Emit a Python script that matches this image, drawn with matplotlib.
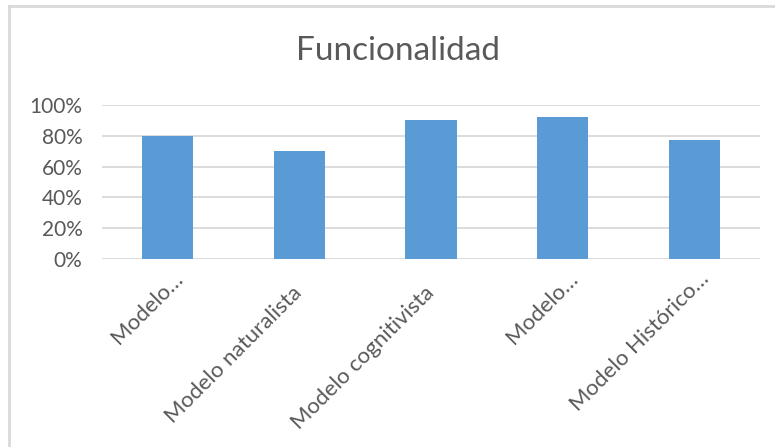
import matplotlib
matplotlib.use("Agg")
import matplotlib.pyplot as plt
import matplotlib.ticker as mtick
import matplotlib.transforms as mtrans
from matplotlib.lines import Line2D

categories = ["Modelo…", "Modelo naturalista", "Modelo cognitivista",
              "Modelo…", "Modelo Histórico…"]
values = [0.80, 0.70, 0.90, 0.92, 0.775]
y_ticks = [0, 0.2, 0.4, 0.6, 0.8, 1.0]

plt.rcParams["font.family"] = ["Lato", "DejaVu Sans"]
text_color = "#595959"
grid_color = "#d9d9d9"
bar_color = "#5b9bd5"

W, H = 775, 447
fig = plt.figure(figsize=(W / 100, H / 100), dpi=100)
ax = fig.add_axes([102 / W, 1 - 259 / H, 658 / W, 154 / H])

x = list(range(len(categories)))
ax.bar(x, values, width=0.39, color=bar_color, zorder=3)

ax.set_xlim(-0.5, len(categories) - 0.5)
ax.set_ylim(0, 1)
ax.set_yticks(y_ticks)
ax.yaxis.set_major_formatter(mtick.PercentFormatter(1.0, decimals=0))
ax.grid(axis="y", color=grid_color, linewidth=1.3, zorder=0)
for s in ax.spines.values():
    s.set_visible(False)
ax.tick_params(axis="both", length=0, colors=text_color, labelsize=15)
ax.tick_params(axis="y", pad=14)
ax.tick_params(axis="x", pad=0)

ax.set_xticks(x)
ax.set_xticklabels(categories, rotation=45, ha="right", va="baseline",
                   rotation_mode="anchor", fontsize=16, color=text_color)
# Excel puts the truncated labels a bit further along the text direction
for lab in ax.get_xticklabels():
    dx, dy = 4, -35
    if lab.get_text().endswith("…"):
        dx, dy = 16, -21
    off = mtrans.ScaledTranslation(dx / 100, dy / 100, fig.dpi_scale_trans)
    lab.set_transform(lab.get_transform() + off)

fig.text(398 / W, 1 - 51 / H, "Funcionalidad", ha="center", va="center",
         fontsize=24, color=text_color)

# chart frame (left and top edges visible in the crop)
fig.add_artist(Line2D([9 / W, 9 / W], [0, 1 - 6 / H], color=grid_color,
                      linewidth=2, transform=fig.transFigure))
fig.add_artist(Line2D([9 / W, 1], [1 - 6 / H, 1 - 6 / H], color=grid_color,
                      linewidth=2, transform=fig.transFigure))

fig.savefig("out.png", dpi=100)
